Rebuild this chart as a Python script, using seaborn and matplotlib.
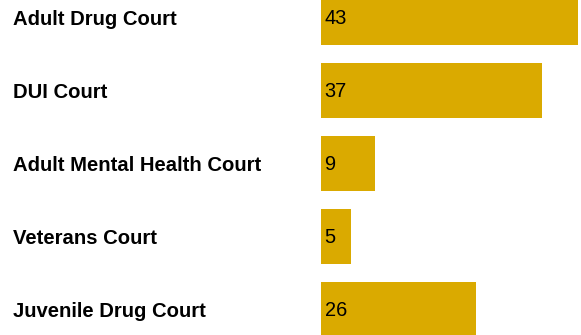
import matplotlib
matplotlib.use("Agg")
import matplotlib.pyplot as plt
import seaborn as sns
import pandas as pd

# Number of problem-solving courts by type
courts = ["Adult Drug Court", "DUI Court", "Adult Mental Health Court",
          "Veterans Court", "Juvenile Drug Court"]
counts = [43, 37, 9, 5, 26]

bar_color = "#DAAA00"

sns.set_theme(style="white")
plt.rcParams["font.family"] = ["Liberation Sans", "DejaVu Sans"]

df = pd.DataFrame({"court": courts, "count": counts})

fig = plt.figure(figsize=(5.81, 3.35), dpi=100)
ax_left = 321.0
ax = fig.add_axes([ax_left / 581, 0, (581 - ax_left) / 581, 1])

sns.barplot(data=df, x="count", y="court", orient="h", color=bar_color,
            saturation=1, width=0.753, linewidth=0, ax=ax)

ax.set_xlim(0, 43.5)
ax.set_ylim(4.349, -0.24)
ax.set_xlabel("")
ax.set_ylabel("")
ax.set_xticks([])
ax.set_yticks([])
for s in ax.spines.values():
    s.set_visible(False)

# Category labels in the left margin, centred on each bar
label_x = (13 - ax_left) / (581 - ax_left)
for i, name in enumerate(courts):
    ax.annotate(name, xy=(label_x, i), xycoords=ax.get_yaxis_transform(),
                xytext=(0, -2), textcoords="offset pixels",
                ha="left", va="center", fontsize=14.6, fontweight="bold",
                color="black", annotation_clip=False)

# Value labels inside each bar, at its left end
for i, v in enumerate(counts):
    ax.annotate(str(v), xy=(0, i), xytext=(3.5, -0.5), textcoords="offset pixels",
                ha="left", va="center", fontsize=14.4, color="black")

fig.savefig("out.png", dpi=100)
